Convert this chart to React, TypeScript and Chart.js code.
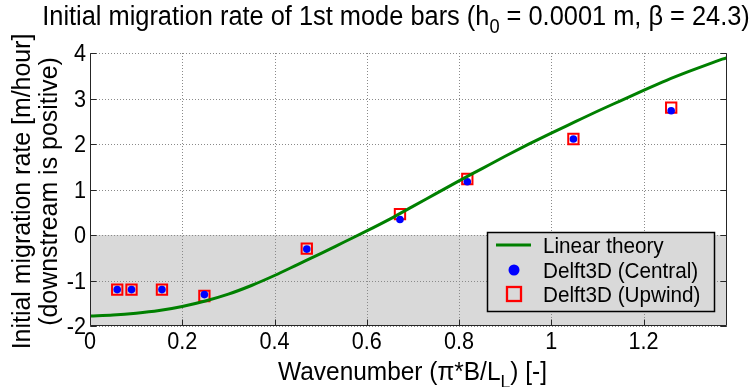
import { useEffect, useRef } from 'react';
import { Chart, registerables } from 'chart.js';

Chart.register(...registerables);

// Wavenumber (pi*B/L) of each Delft3D run
const runWavenumber = [0.059, 0.090, 0.156, 0.248, 0.470, 0.672, 0.818, 1.048, 1.260];
// Initial migration rate, central advection scheme [m/hour]
const centralRate = [-1.20, -1.20, -1.20, -1.31, -0.31, 0.34, 1.17, 2.11, 2.73];
// Initial migration rate, upwind advection scheme [m/hour]
const upwindRate = [-1.20, -1.20, -1.20, -1.34, -0.30, 0.46, 1.23, 2.11, 2.80];

// Linear stability theory curve
const theoryWavenumber = [
  0, 0.05, 0.1, 0.15, 0.2, 0.25, 0.3, 0.35, 0.4, 0.45, 0.5, 0.55, 0.6, 0.65,
  0.7, 0.75, 0.8, 0.85, 0.9, 0.95, 1.0, 1.05, 1.1, 1.15, 1.2, 1.25, 1.3, 1.35, 1.381,
];
const theoryRate = [
  -1.78, -1.76, -1.72, -1.66, -1.57, -1.45, -1.30, -1.11, -0.89, -0.65, -0.41, -0.16, 0.09, 0.35,
  0.63, 0.91, 1.19, 1.46, 1.73, 1.99, 2.24, 2.48, 2.72, 2.95, 3.18, 3.40, 3.60, 3.79, 3.90,
];

const xTicks = [0, 0.2, 0.4, 0.6, 0.8, 1.0, 1.2];
const xTickLabels = ['0', '0.2', '0.4', '0.6', '0.8', '1', '1.2'];
const yTicks = [-2, -1, 0, 1, 2, 3, 4];
const yTickLabels = ['-2', '-1', '0', '1', '2', '3', '4'];

const seriesNames = ['Linear theory', 'Delft3D (Central)', 'Delft3D (Upwind)'];

const FONT = '"Liberation Sans", Arial, Helvetica, sans-serif';
const CONDENSE = 0.94;
const GREEN = '#008000';
const BLUE = '#0000ff';
const RED = '#ff0000';
const SHADE = '#d9d9d9';
const AXIS = '#262626';

type Seg = { text: string; sub?: boolean };

function drawRich(
  ctx: CanvasRenderingContext2D,
  segs: Seg[],
  x: number,
  y: number,
  size: number,
  align: 'left' | 'center' | 'right',
  rot = 0,
) {
  ctx.save();
  ctx.translate(x, y);
  ctx.rotate(rot);
  ctx.scale(CONDENSE, 1);
  ctx.textBaseline = 'alphabetic';
  ctx.textAlign = 'left';
  ctx.fillStyle = '#000';
  let w = 0;
  for (const s of segs) {
    ctx.font = `${s.sub ? size * 0.72 : size}px ${FONT}`;
    w += ctx.measureText(s.text).width;
  }
  let cx = align === 'center' ? -w / 2 : align === 'right' ? -w : 0;
  for (const s of segs) {
    ctx.font = `${s.sub ? size * 0.72 : size}px ${FONT}`;
    ctx.fillText(s.text, cx, s.sub ? size * 0.3 : 0);
    cx += ctx.measureText(s.text).width;
  }
  ctx.restore();
}

const matlabAxes = {
  id: 'matlabAxes',
  beforeDatasetsDraw(chart: any) {
    const { ctx, chartArea, scales } = chart;
    const { left, right, top, bottom } = chartArea;
    const xs = scales.x;
    const ys = scales.y;
    ctx.save();
    // shaded band of upstream migration
    const y0 = ys.getPixelForValue(0);
    const yMin = ys.getPixelForValue(-2);
    ctx.fillStyle = SHADE;
    ctx.fillRect(left, y0, right - left, yMin - y0);
    // dotted grid
    ctx.strokeStyle = '#8a8a8a';
    ctx.lineWidth = 1;
    ctx.setLineDash([1, 2]);
    ctx.beginPath();
    for (const v of xTicks) {
      const px = Math.round(xs.getPixelForValue(v)) + 0.5;
      ctx.moveTo(px, top);
      ctx.lineTo(px, bottom);
    }
    for (const v of yTicks) {
      const py = Math.round(ys.getPixelForValue(v)) + 0.5;
      ctx.moveTo(left, py);
      ctx.lineTo(right, py);
    }
    ctx.stroke();
    ctx.restore();
  },
  afterDatasetsDraw(chart: any) {
    const { ctx, chartArea, scales } = chart;
    const { left, right, top, bottom } = chartArea;
    const xs = scales.x;
    const ys = scales.y;
    ctx.save();
    ctx.setLineDash([]);
    ctx.strokeStyle = AXIS;
    ctx.lineWidth = 1;
    const L = Math.round(left) + 0.5;
    const R = Math.round(right) - 0.5;
    const B = Math.round(bottom) - 0.5;
    const T = Math.round(top) + 0.5;
    ctx.beginPath();
    ctx.moveTo(L, T);
    ctx.lineTo(L, B);
    ctx.lineTo(R, B);
    ctx.lineTo(R, T);
    // inward ticks
    for (const v of xTicks) {
      const px = Math.round(xs.getPixelForValue(v)) + 0.5;
      ctx.moveTo(px, B);
      ctx.lineTo(px, B - 6);
    }
    for (const v of yTicks) {
      const py = Math.round(ys.getPixelForValue(v)) + 0.5;
      ctx.moveTo(L, py);
      ctx.lineTo(L + 6, py);
      ctx.moveTo(R, py);
      ctx.lineTo(R - 6, py);
    }
    ctx.stroke();

    // tick labels
    xTicks.forEach((v, i) => {
      drawRich(ctx, [{ text: xTickLabels[i] }], xs.getPixelForValue(v), bottom + 23, 23, 'center');
    });
    yTicks.forEach((v, i) => {
      drawRich(ctx, [{ text: yTickLabels[i] }], left - 4, ys.getPixelForValue(v) + 8, 23, 'right');
    });

    // axis titles
    const midX = (left + right) / 2;
    const midY = (top + bottom) / 2 + 2;
    drawRich(
      ctx,
      [{ text: 'Wavenumber (\u03c0*B/L' }, { text: 'L', sub: true }, { text: ') [-]' }],
      midX + 4,
      380,
      26,
      'center',
    );
    drawRich(ctx, [{ text: 'Initial migration rate [m/hour]' }], 30, midY, 26.5, 'center', -Math.PI / 2);
    drawRich(ctx, [{ text: '(downstream is positive)' }], 57, midY, 26.5, 'center', -Math.PI / 2);

    // title
    drawRich(
      ctx,
      [
        { text: 'Initial migration rate of 1st mode bars (h' },
        { text: '0', sub: true },
        { text: ' = 0.0001 m, \u03b2 = 24.3)' },
      ],
      396,
      25,
      27,
      'center',
    );

    // legend
    const lx = 487.5;
    const ly = 232.5;
    const lw = 227;
    const lh = 79;
    ctx.fillStyle = SHADE;
    ctx.fillRect(lx, ly, lw, lh);
    ctx.strokeStyle = '#000';
    ctx.lineWidth = 1.5;
    ctx.strokeRect(lx, ly, lw, lh);
    const rows = [245, 270, 294];
    ctx.strokeStyle = GREEN;
    ctx.lineWidth = 3;
    ctx.beginPath();
    ctx.moveTo(496, rows[0]);
    ctx.lineTo(531, rows[0]);
    ctx.stroke();
    ctx.fillStyle = BLUE;
    ctx.beginPath();
    ctx.arc(514, rows[1], 5.5, 0, Math.PI * 2);
    ctx.fill();
    ctx.strokeStyle = RED;
    ctx.lineWidth = 2.3;
    ctx.strokeRect(514 - 7, rows[2] - 7, 14, 14);
    seriesNames.forEach((n, i) => {
      drawRich(ctx, [{ text: n }], 543, rows[i] + 8, 22, 'left');
    });
    ctx.restore();
  },
};

export default function App() {
  const ref = useRef<HTMLCanvasElement | null>(null);

  useEffect(() => {
    if (!ref.current) return;
    const chart = new Chart(ref.current, {
      type: 'scatter',
      data: {
        datasets: [
          {
            label: seriesNames[0],
            data: theoryWavenumber.map((k, i) => ({ x: k, y: theoryRate[i] })),
            showLine: true,
            borderColor: GREEN,
            borderWidth: 3,
            pointRadius: 0,
            cubicInterpolationMode: 'monotone',
            order: 0,
          },
          {
            label: seriesNames[1],
            data: runWavenumber.map((k, i) => ({ x: k, y: centralRate[i] })),
            pointStyle: 'circle',
            pointRadius: 3.8,
            backgroundColor: BLUE,
            borderWidth: 0,
            order: 1,
          },
          {
            label: seriesNames[2],
            data: runWavenumber.map((k, i) => ({ x: k, y: upwindRate[i] })),
            pointStyle: 'rect',
            pointRadius: 7.3,
            backgroundColor: 'rgba(0,0,0,0)',
            borderColor: RED,
            borderWidth: 2,
            order: 2,
          },
        ],
      },
      options: {
        responsive: false,
        animation: false,
        devicePixelRatio: 1,
        layout: { padding: { left: 90, right: 26, top: 53, bottom: 61 } },
        scales: {
          x: { type: 'linear', min: 0, max: 1.381, display: false },
          y: { type: 'linear', min: -2, max: 4, display: false },
        },
        plugins: {
          legend: { display: false },
          tooltip: { enabled: false },
          title: { display: false },
        },
      },
      plugins: [matlabAxes],
    });
    return () => chart.destroy();
  }, []);

  return (
    <div style={{ position: 'fixed', left: 0, top: 0, width: 753, height: 387, background: '#fff' }}>
      <canvas ref={ref} width={753} height={387} style={{ width: 753, height: 387 }} />
    </div>
  );
}
